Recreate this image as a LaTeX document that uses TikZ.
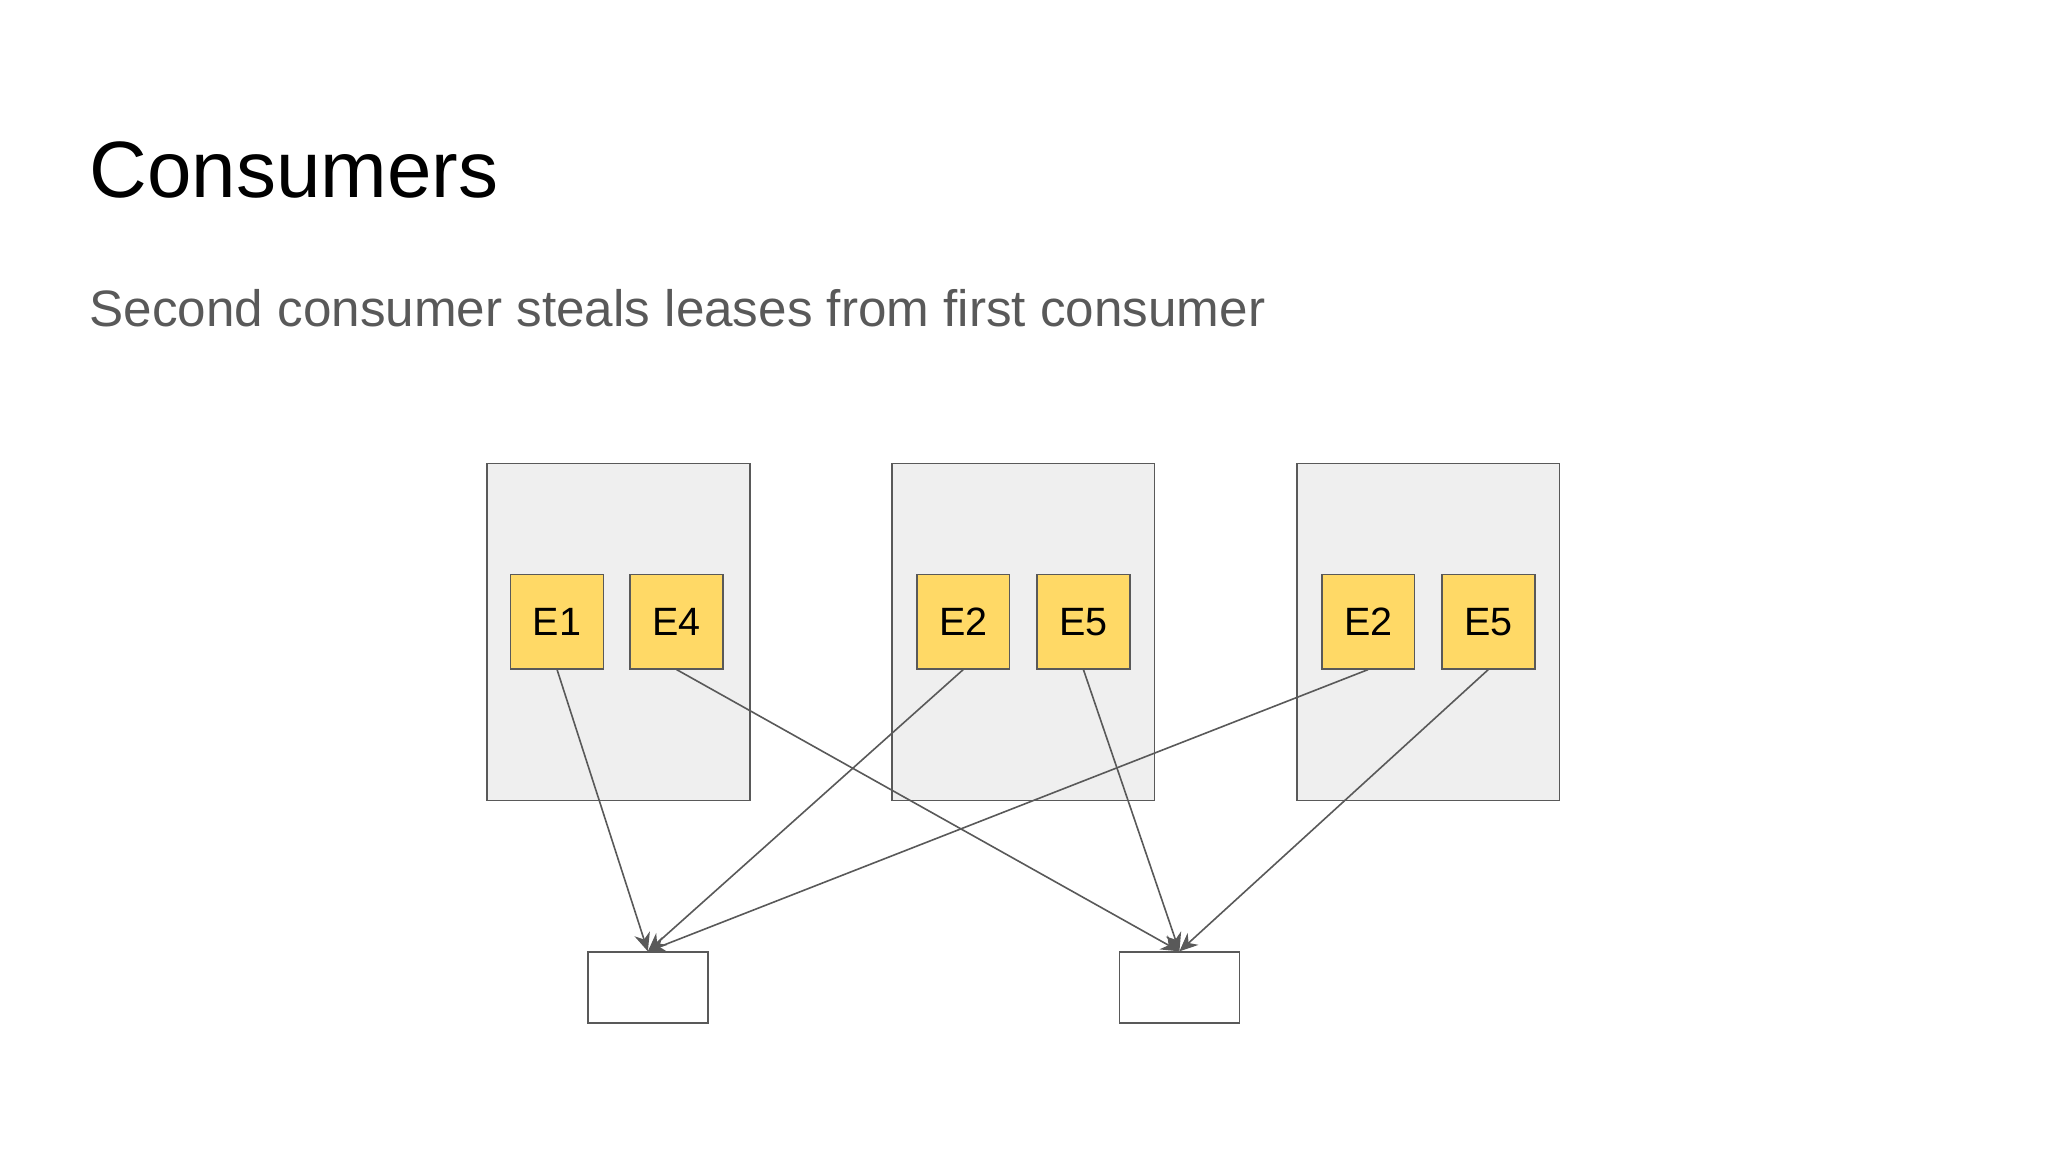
\documentclass[tikz,border=0pt]{standalone}
\usepackage{fontspec}
\setmainfont{Liberation Sans}
\usetikzlibrary{arrows.meta}
\definecolor{edge}{HTML}{595959}
\definecolor{boxfill}{HTML}{EFEFEF}
\definecolor{yel}{HTML}{FFD966}
\definecolor{sub}{HTML}{595959}
\tikzset{
  host/.style={draw=edge,fill=boxfill,line width=0.35pt},
  ev/.style={draw=edge,fill=yel,line width=0.35pt,inner sep=0,minimum width=0.71cm,minimum height=0.72cm,font=\fontsize{8.6pt}{10pt}\selectfont},
  cons/.style={draw=edge,fill=white,line width=0.35pt,inner sep=0,minimum width=0.92cm,minimum height=0.54cm},
  lnk/.style={draw=edge,line width=0.35pt,-{Stealth[length=4pt,width=3.5pt]}}
}
\begin{document}
\begin{tikzpicture}[x=0.01cm,y=-0.01cm]
\useasboundingbox (0,0) rectangle (1568,882);
\node[anchor=base west,inner sep=0,font=\fontsize{17.4pt}{20pt}\selectfont] (title) at (68,151) {Consumers};
\node[anchor=base west,inner sep=0,text=sub,font=\fontsize{11.15pt}{13pt}\selectfont] (subt) at (68,250) {Second consumer steals leases from first consumer};
\draw[host] (373,355) rectangle (574,613);
\draw[host] (683,355) rectangle (884,613);
\draw[host] (993,355) rectangle (1194,613);
\node[ev] at (426.5,476) (a1) {E1};
\node[ev] at (518,476) (a4) {E4};
\node[ev] at (737.5,476) (b2) {E2};
\node[ev] at (829.5,476) (b5) {E5};
\node[ev] at (1047.5,476) (c2) {E2};
\node[ev] at (1139.5,476) (c5) {E5};
\node[cons] at (496,756) (l) {};
\node[cons] at (903,756) (r) {};
\draw[lnk] (a1.south) -- (l.north);
\draw[lnk] (b2.south) -- (l.north);
\draw[lnk] (c2.south) -- (l.north);
\draw[lnk] (a4.south) -- (r.north);
\draw[lnk] (b5.south) -- (r.north);
\draw[lnk] (c5.south) -- (r.north);
\end{tikzpicture}
\end{document}
